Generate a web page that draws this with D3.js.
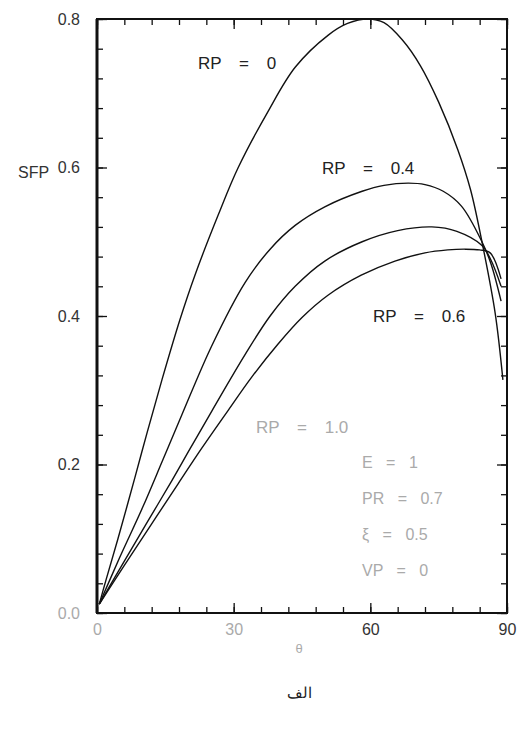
<!DOCTYPE html>
<html>
<head>
<meta charset="utf-8">
<script src="https://cdn.jsdelivr.net/npm/d3@7"></script>
<style>
  body { margin: 0; background: #fff; }
  text { font-family: "Liberation Sans", Arial, sans-serif; }
</style>
</head>
<body>
<div class="chart_box"></div>
<script>
// curve data (theta in degrees, SFP)
const thetaRP0 = [0.5, 2, 4.6, 8.3, 11, 14.3, 18.2, 21.5, 26.6, 31, 37.5, 43.5, 50.7, 55, 59.5, 63, 67, 71, 75, 79.2, 82, 84.5, 87.4, 89.1];
const sfpRP0 = [0.012, 0.045, 0.1, 0.182, 0.243, 0.315, 0.395, 0.455, 0.536, 0.6, 0.675, 0.735, 0.778, 0.794, 0.8, 0.795, 0.772, 0.737, 0.688, 0.624, 0.57, 0.5, 0.404, 0.314];

const thetaRP04 = [0.5, 5, 10, 14.3, 18.7, 25.2, 32.5, 38, 43.5, 50, 58.2, 63, 68.3, 72, 76, 80, 84.5, 86.5, 88.7];
const sfpRP04 = [0.012, 0.075, 0.142, 0.204, 0.268, 0.36, 0.445, 0.49, 0.522, 0.547, 0.568, 0.576, 0.579, 0.577, 0.568, 0.548, 0.5, 0.47, 0.42];

const thetaRP06 = [0.5, 6, 11, 16.5, 20.5, 25.2, 32.5, 38, 43.5, 50, 58.2, 66, 73.5, 79, 84.5, 86.5, 88.7];
const sfpRP06 = [0.012, 0.07, 0.122, 0.179, 0.222, 0.272, 0.348, 0.4, 0.44, 0.474, 0.5, 0.515, 0.52, 0.514, 0.495, 0.475, 0.44];

const thetaRP10 = [0.5, 6, 12, 17.8, 23, 28.8, 34, 39.7, 45, 50.7, 58, 65.4, 72, 77, 80.8, 84, 86.3, 88.7];
const sfpRP10 = [0.012, 0.064, 0.12, 0.174, 0.222, 0.273, 0.318, 0.362, 0.398, 0.428, 0.455, 0.474, 0.485, 0.489, 0.49, 0.489, 0.485, 0.45];

const xMajor = [0, 30, 60, 90];
const xMinor = d3.range(0, 91, 6);
const yMajor = [0, 0.2, 0.4, 0.6, 0.8];
const yMinor = d3.range(0, 0.801, 0.04);

const curveLabels = ["RP = 0", "RP = 0.4", "RP = 0.6", "RP = 1.0"];
const paramLabels = ["E = 1", "PR = 0.7", "ξ = 0.5", "VP = 0"];

const series = [
  { x: thetaRP0, y: sfpRP0 },
  { x: thetaRP04, y: sfpRP04 },
  { x: thetaRP06, y: sfpRP06 },
  { x: thetaRP10, y: sfpRP10 },
];

// Set up the SVG canvas
const svg = d3
  .select(".chart_box")
  .append("svg")
  .attr("width", 531)
  .attr("height", 734);

svg.append("rect").attr("width", 531).attr("height", 734).attr("fill", "#fff");

const mLeft = 97, mRight = 507, mTop = 19, mBottom = 613;

const xScale = d3.scaleLinear().domain([0, 90]).range([mLeft, mRight]);
const yScale = d3.scaleLinear().domain([0, 0.8]).range([mBottom, mTop]);

const faint = "#aaaaaa";

// minor ticks on all four sides (pointing inward)
svg.append("g").attr("transform", `translate(0,${mBottom})`)
  .call(d3.axisBottom(xScale).tickValues(xMinor).tickSize(-6).tickFormat(""));
svg.append("g").attr("transform", `translate(0,${mTop})`)
  .call(d3.axisTop(xScale).tickValues(xMinor).tickSize(-6).tickFormat(""));
svg.append("g").attr("transform", `translate(${mLeft},0)`)
  .call(d3.axisLeft(yScale).tickValues(yMinor).tickSize(-6).tickFormat(""));
svg.append("g").attr("transform", `translate(${mRight},0)`)
  .call(d3.axisRight(yScale).tickValues(yMinor).tickSize(-6).tickFormat(""));

// major ticks with labels
const xAxis = svg.append("g").attr("transform", `translate(0,${mBottom})`)
  .call(d3.axisBottom(xScale).tickValues(xMajor).tickSize(-10).tickPadding(11).tickFormat(d3.format("d")));
xAxis.selectAll("text")
  .attr("font-size", 16)
  .attr("fill", (d) => (d < 60 ? faint : "#333"));

const yAxis = svg.append("g").attr("transform", `translate(${mLeft},0)`)
  .call(d3.axisLeft(yScale).tickValues(yMajor).tickSize(-10).tickPadding(17).tickFormat(d3.format(".1f")));
yAxis.selectAll("text")
  .attr("font-size", 16)
  .attr("fill", (d) => (d === 0 ? faint : "#333"));

svg.append("g").attr("transform", `translate(0,${mTop})`)
  .call(d3.axisTop(xScale).tickValues(xMajor).tickSize(-10).tickFormat(""));
svg.append("g").attr("transform", `translate(${mRight},0)`)
  .call(d3.axisRight(yScale).tickValues(yMajor).tickSize(-10).tickFormat(""));

svg.selectAll(".domain").remove();
svg.selectAll(".tick line").attr("stroke", "#111").attr("stroke-width", 1.3);

// frame
svg.append("rect")
  .attr("x", mLeft).attr("y", mTop)
  .attr("width", mRight - mLeft).attr("height", mBottom - mTop)
  .attr("fill", "none").attr("stroke", "#111").attr("stroke-width", 2);
svg.append("line")
  .attr("x1", mLeft).attr("x2", mLeft).attr("y1", mTop).attr("y2", mBottom)
  .attr("stroke", "#111").attr("stroke-width", 3);

// curves
const line = d3.line()
  .x((d) => xScale(d[0]))
  .y((d) => yScale(d[1]))
  .curve(d3.curveCatmullRom.alpha(0.5));

svg.selectAll(".curve")
  .data(series)
  .enter()
  .append("path")
  .attr("class", "curve")
  .attr("d", (s) => line(s.x.map((t, i) => [t, s.y[i]])))
  .attr("fill", "none")
  .attr("stroke", "#111")
  .attr("stroke-width", 1.4);

// curve labels
const labelPos = [
  { x: 198, y: 69, c: "#222" },
  { x: 322, y: 174, c: "#222" },
  { x: 373, y: 322, c: "#222" },
  { x: 256, y: 433, c: faint },
];
svg.selectAll(".rp")
  .data(curveLabels)
  .enter()
  .append("text")
  .attr("class", "rp")
  .attr("x", (d, i) => labelPos[i].x)
  .attr("y", (d, i) => labelPos[i].y)
  .attr("font-size", 17)
  .attr("word-spacing", 13)
  .attr("fill", (d, i) => labelPos[i].c)
  .text((d) => d);

// parameter box text
svg.selectAll(".param")
  .data(paramLabels)
  .enter()
  .append("text")
  .attr("class", "param")
  .attr("x", 362)
  .attr("y", (d, i) => 468 + i * 36)
  .attr("font-size", 16)
  .attr("word-spacing", 9)
  .attr("fill", faint)
  .text((d) => d);

// axis titles
svg.append("text")
  .attr("x", 18).attr("y", 178)
  .attr("font-size", 16).attr("fill", "#333")
  .text("SFP");

svg.append("text")
  .attr("x", 299).attr("y", 653)
  .attr("text-anchor", "middle")
  .attr("font-size", 13).attr("fill", faint)
  .text("θ");

svg.append("text")
  .attr("x", 299).attr("y", 698)
  .attr("text-anchor", "middle")
  .attr("font-family", "DejaVu Sans, Noto Sans")
  .attr("font-size", 15).attr("fill", "#222")
  .text("الف");
</script>
</body>
</html>
